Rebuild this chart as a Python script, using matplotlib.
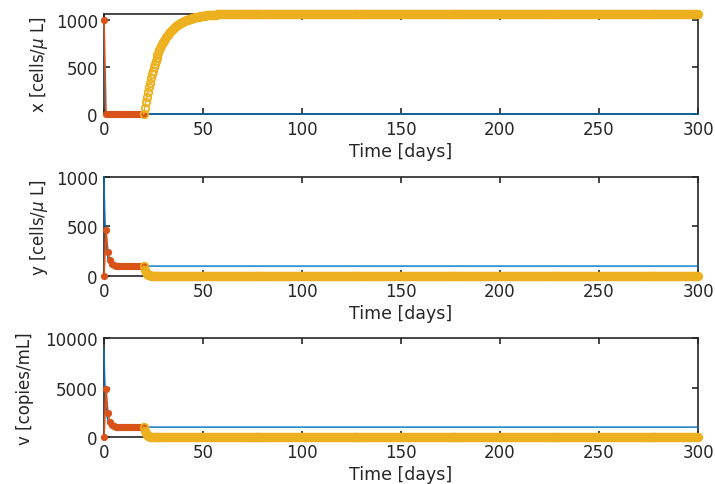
import numpy as np
import matplotlib

matplotlib.use("Agg")
import matplotlib.pyplot as plt

plt.rcParams["font.family"] = ["DejaVu Sans"]
plt.rcParams["mathtext.fontset"] = "dejavusans"

BLUE = "#0072BD"
ORANGE = "#D95319"
YELLOW = "#EDB120"
AXC = "#262626"

# ---- continuous solution (blue) ----
t_blue = [0, 0.25, 0.5, 0.75, 1, 1.5, 2, 2.5, 3, 4, 5, 6, 8, 300]
x_blue = [1000, 300, 80, 20, 5, 0, 0, 0, 0, 0, 0, 0, 0, 0]
y_blue = [1000, 750, 560, 430, 340, 230, 170, 135, 118, 105, 101, 100, 100, 100]
v_blue = [8900, 6700, 5100, 3900, 3100, 2100, 1600, 1320, 1170, 1050, 1010, 1000, 1000, 1000]

# ---- first phase, days 0..20 (orange) ----
t_orange = list(range(0, 21))
x_orange = [1000] + [0] * 20
y_orange = [0, 465, 240, 160, 125, 110, 104, 102, 101] + [100] * 12
v_orange = [0, 4850, 2400, 1550, 1220, 1090, 1040, 1015, 1005] + [1000] * 12

# ---- second phase, days 20..300 every half day (yellow) ----
t_yellow = np.arange(20, 300.5, 0.5)
x_rise = [0, 64, 125, 182, 236, 286, 333, 377, 419, 458,
          495, 530, 562, 592, 621, 648, 673, 697, 719, 740,
          760, 778, 796, 812, 827, 842, 855, 868, 880, 891,
          902, 912, 921, 930, 938, 946, 953, 960, 966, 972,
          978, 983, 988, 993, 997, 1001, 1005, 1009, 1012, 1015,
          1018, 1021, 1024, 1026, 1029, 1031, 1033, 1035, 1037, 1038,
          1040, 1041, 1043, 1044, 1046, 1047, 1048, 1049, 1050, 1051,
          1052, 1052, 1053, 1054, 1055, 1055, 1056, 1056, 1057, 1057, 1058]
y_decay = [100, 65, 40, 24, 14, 8, 5, 3, 2, 1]
v_decay = [1000, 650, 400, 240, 140, 80, 50, 30, 18, 10, 6, 3, 2, 1]
n_y = len(t_yellow)
x_yellow = x_rise + [1060] * (n_y - len(x_rise))
y_yellow = y_decay + [0] * (n_y - len(y_decay))
v_yellow = v_decay + [0] * (n_y - len(v_decay))

panels = [
    (x_blue, x_orange, x_yellow, "x [cells/$\\mu$ L]", (0, 1060), [0, 500, 1000], 0.7629, 0.2062, -0.091),
    (y_blue, y_orange, y_yellow, "y [cells/$\\mu$ L]", (0, 1000), [0, 500, 1000], 0.4289, 0.2041, -0.091),
    (v_blue, v_orange, v_yellow, "v [copies/mL]", (0, 10000), [0, 5000, 10000], 0.0969, 0.2041, -0.118),
]

fig = plt.figure(figsize=(7.15, 4.85), dpi=100)
for yb, yo, yy, ylab, ylim, yt, bottom, height, labx in panels:
    ax = fig.add_axes([0.1455, bottom, 0.8308, height])
    ax.plot(t_blue, yb, color=BLUE, linewidth=1.0, clip_on=False, zorder=2)
    ax.plot(t_orange, yo, color=ORANGE, linewidth=1.2, marker="o", markersize=4.2,
            markerfacecolor=ORANGE, markeredgecolor=ORANGE, clip_on=False, zorder=3)
    ax.plot(t_yellow, yy, color=YELLOW, linewidth=1.0, marker="o", markersize=5.4,
            markerfacecolor="none", markeredgecolor=YELLOW, markeredgewidth=1.3,
            clip_on=False, zorder=4)
    ax.set_xlim(0, 300)
    ax.set_ylim(*ylim)
    ax.set_xticks(range(0, 301, 50))
    ax.set_yticks(yt)
    ax.tick_params(direction="in", length=4.5, width=1.2, colors=AXC, labelsize=12,
                   top=True, right=True, pad=4)
    ax.tick_params(axis="y", pad=4.5)
    for sp in ax.spines.values():
        sp.set_color(AXC)
        sp.set_linewidth(1.2)
        sp.set_zorder(1)
    ax.set_xlabel("Time [days]", fontsize=12.5, color=AXC, labelpad=3)
    ax.set_ylabel(ylab, fontsize=12, color=AXC)
    ax.yaxis.set_label_coords(labx, 0.5)

fig.savefig("out.png", dpi=100)
